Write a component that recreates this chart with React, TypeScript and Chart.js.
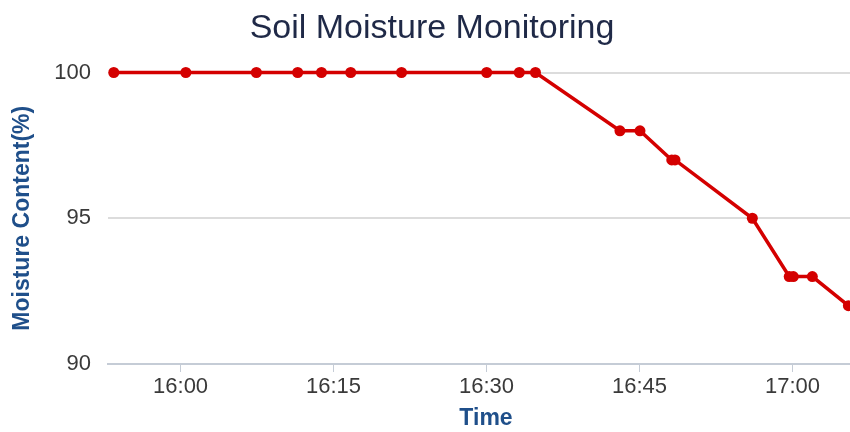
import React, { useEffect, useRef } from "react";
import { Chart, registerables } from "chart.js";

Chart.register(...registerables);

const TITLE = "Soil Moisture Monitoring";
const X_TITLE = "Time";
const Y_TITLE = "Moisture Content(%)";

const TIMES = [
  "15:53:27", "16:00:31", "16:07:26", "16:11:29", "16:13:49", "16:16:41",
  "16:21:40", "16:30:01", "16:33:13", "16:34:48", "16:43:05", "16:45:03",
  "16:48:10", "16:48:29", "16:56:04", "16:59:41", "17:00:05", "17:01:57",
  "17:05:29",
];
const MOISTURE = [100, 100, 100, 100, 100, 100, 100, 100, 100, 100, 98, 98, 97, 97, 95, 93, 93, 93, 92];

const X_TICKS = ["16:00", "16:15", "16:30", "16:45", "17:00"];
const X_MIN = "15:52:53";
const X_MAX = "17:07:01";
const Y_MIN = 90;
const Y_MAX = 100;
const Y_STEP = 5;

const BASE_HOUR = 16;
function toMinutes(t: string): number {
  const [h, m, s] = t.split(":").map(Number);
  return (h - BASE_HOUR) * 60 + m + (s || 0) / 60;
}
function fmt(v: number): string {
  const total = Math.round(v) + BASE_HOUR * 60;
  const h = Math.floor(total / 60);
  const m = total % 60;
  return `${h}:${m.toString().padStart(2, "0")}`;
}

const FONT = "'Liberation Sans', Arial, sans-serif";

export default function App() {
  const ref = useRef<HTMLCanvasElement | null>(null);
  useEffect(() => {
    if (!ref.current) return;
    const data = TIMES.map((t, i) => ({ x: toMinutes(t), y: MOISTURE[i] }));
    const chart = new Chart(ref.current, {
      type: "line",
      data: {
        datasets: [
          {
            data,
            borderColor: "#d40000",
            backgroundColor: "#d40000",
            borderWidth: 3.5,
            pointRadius: 5.5,
            pointBorderWidth: 0,
            pointBackgroundColor: "#d40000",
            tension: 0,
            clip: false as any,
          },
        ],
      },
      options: {
        responsive: false,
        animation: false,
        layout: { padding: 0, autoPadding: false },
        plugins: {
          legend: { display: false },
          tooltip: { enabled: false },
          title: {
            display: true,
            text: TITLE,
            color: "#1f2947",
            font: { family: FONT, size: 34, weight: "normal" as any, lineHeight: 1.2 },
            padding: { top: 8, bottom: 23.7 },
          },
        },
        scales: {
          x: {
            type: "linear",
            min: toMinutes(X_MIN),
            max: toMinutes(X_MAX),
            afterBuildTicks: (axis: any) => {
              axis.ticks = X_TICKS.map((t) => ({ value: toMinutes(t) }));
            },
            afterFit: (axis: any) => {
              axis.height = 68;
              axis.paddingRight = 0;
              axis.paddingLeft = 0;
            },
            grid: {
              drawOnChartArea: false,
              drawTicks: true,
              tickLength: 8,
              color: "#c5ccd6",
              lineWidth: 1,
            },
            border: { display: true, color: "#c5ccd6", width: 2 },
            ticks: {
              padding: 2,
              color: "#3a3a3a",
              font: { family: FONT, size: 22 },
              callback: (v: any) => fmt(Number(v)),
              maxRotation: 0,
              autoSkip: false,
            },
            title: {
              display: true,
              text: X_TITLE,
              color: "#1f4f8a",
              font: { family: FONT, size: 23, weight: "bold" as any, lineHeight: 1.2 },
              padding: { top: 0, bottom: 0 },
            },
          },
          y: {
            min: Y_MIN,
            max: Y_MAX,
            afterFit: (axis: any) => {
              axis.width = 108;
            },
            ticks: {
              stepSize: Y_STEP,
              padding: 17,
              color: "#3a3a3a",
              font: { family: FONT, size: 22 },
            },
            grid: {
              drawTicks: false,
              color: "#dcdcdc",
              lineWidth: 2,
            },
            border: { display: false },
            title: {
              display: true,
              text: Y_TITLE,
              color: "#1f4f8a",
              font: { family: FONT, size: 23, weight: "bold" as any, lineHeight: 1.2 },
              padding: { top: 9, bottom: 0 },
            },
          },
        },
      },
    });
    return () => chart.destroy();
  }, []);
  return (
    <div
      style={{
        position: "fixed",
        left: 0,
        top: 0,
        width: 850,
        height: 432,
        overflow: "hidden",
        background: "#ffffff",
      }}
    >
      <canvas ref={ref} width={864} height={432} style={{ display: "block" }} />
    </div>
  );
}
